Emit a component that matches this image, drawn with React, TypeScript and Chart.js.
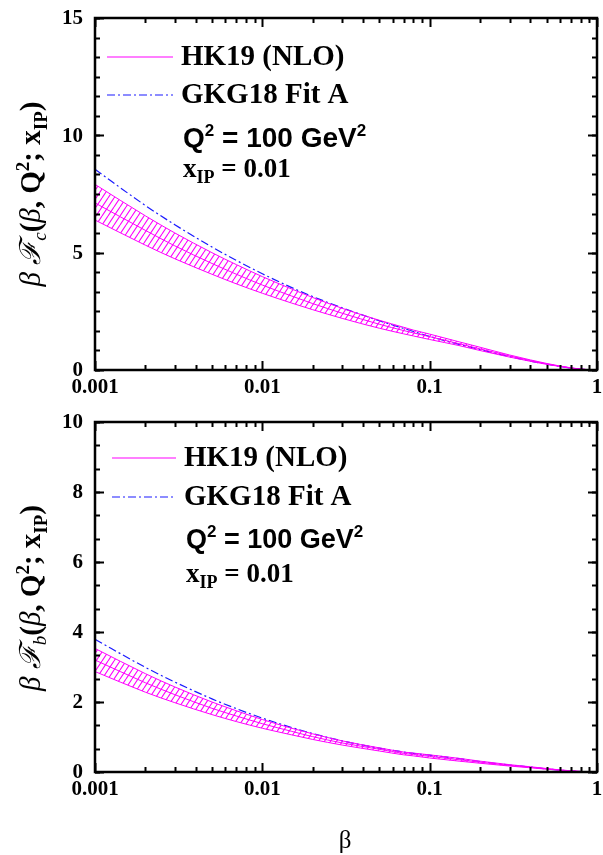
import React, { useEffect, useRef } from "react";
import { Chart, registerables } from "chart.js";
Chart.register(...registerables);

// ---------- data ----------
const betaValues = [0.001, 0.002, 0.003, 0.005, 0.007, 0.01, 0.015, 0.02, 0.03, 0.05, 0.07, 0.08, 0.1, 0.15, 0.2, 0.3, 0.4, 0.5, 0.6, 0.7, 0.8, 0.9, 1.0];

// top panel: charm
const charmUpper = [7.91, 6.57, 5.84, 5.0, 4.49, 3.98, 3.45, 3.09, 2.63, 2.12, 1.82, 1.7, 1.53, 1.2, 0.97, 0.64, 0.43, 0.28, 0.17, 0.09, 0.04, 0.012, 0];
const charmCentral = [7.12, 5.95, 5.29, 4.54, 4.08, 3.62, 3.15, 2.83, 2.42, 1.95, 1.68, 1.58, 1.42, 1.12, 0.9, 0.6, 0.4, 0.26, 0.16, 0.085, 0.038, 0.011, 0];
const charmLower = [6.39, 5.32, 4.74, 4.08, 3.67, 3.27, 2.85, 2.57, 2.2, 1.78, 1.54, 1.45, 1.3, 1.04, 0.83, 0.55, 0.37, 0.24, 0.15, 0.08, 0.035, 0.01, 0];
const charmGKG = [8.55, 7.01, 6.19, 5.24, 4.67, 4.1, 3.51, 3.13, 2.65, 2.1, 1.77, 1.64, 1.43, 1.09, 0.87, 0.57, 0.38, 0.25, 0.15, 0.08, 0.035, 0.01, 0];

// bottom panel: bottom
const bottomUpper = [3.53, 2.81, 2.43, 2.0, 1.75, 1.5, 1.25, 1.09, 0.89, 0.69, 0.57, 0.54, 0.49, 0.39, 0.31, 0.21, 0.15, 0.1, 0.06, 0.035, 0.016, 0.005, 0];
const bottomCentral = [3.2, 2.55, 2.21, 1.82, 1.6, 1.38, 1.16, 1.01, 0.83, 0.65, 0.53, 0.5, 0.445, 0.35, 0.28, 0.19, 0.135, 0.09, 0.055, 0.032, 0.015, 0.005, 0];
const bottomLower = [2.87, 2.28, 1.98, 1.64, 1.44, 1.25, 1.06, 0.93, 0.77, 0.6, 0.49, 0.46, 0.4, 0.31, 0.25, 0.17, 0.12, 0.08, 0.05, 0.028, 0.013, 0.004, 0];
const bottomGKG = [3.79, 2.99, 2.57, 2.09, 1.81, 1.54, 1.27, 1.1, 0.89, 0.68, 0.57, 0.53, 0.48, 0.38, 0.3, 0.2, 0.14, 0.09, 0.055, 0.03, 0.014, 0.004, 0];

const xTickValues = [0.001, 0.01, 0.1, 1];
const xTickLabels = ["0.001", "0.01", "0.1", "1"];
const charmYTicks = [0, 5, 10, 15];
const bottomYTicks = [0, 2, 4, 6, 8, 10];
const legendLabels = ["HK19 (NLO)", "GKG18 Fit A"];
const annotationQ = "Q";
const annotationQRest = " = 100 GeV";
const annotationX = "x";
const annotationXRest = " = 0.01";

const MAGENTA = "#FF00FF";
const BLUE = "#1a1aff";
const SERIF = "'Liberation Serif', 'Times New Roman', serif";
const SANS = "'Liberation Sans', Arial, sans-serif";

type Seg = { t: string; font: string; dy?: number };

function drawRich(ctx: CanvasRenderingContext2D, segs: Seg[], x: number, y: number) {
  let cx = x;
  for (const s of segs) {
    ctx.font = s.font;
    ctx.fillText(s.t, cx, y + (s.dy || 0));
    cx += ctx.measureText(s.t).width;
  }
  return cx - x;
}
function richWidth(ctx: CanvasRenderingContext2D, segs: Seg[]) {
  let w = 0;
  for (const s of segs) {
    ctx.font = s.font;
    w += ctx.measureText(s.t).width;
  }
  return w;
}

function makeHatch(): CanvasPattern | string {
  const c = document.createElement("canvas");
  const w = 6, h = 9;
  c.width = w; c.height = h;
  const g = c.getContext("2d");
  if (!g) return "rgba(255,0,255,0.3)";
  g.strokeStyle = MAGENTA;
  g.lineWidth = 1.1;
  g.beginPath();
  for (const off of [-w, 0, w]) {
    g.moveTo(off, h);
    g.lineTo(off + w, 0);
  }
  g.stroke();
  const p = g.createPattern(c, "repeat");
  return p || "rgba(255,0,255,0.3)";
}

type PanelCfg = {
  height: number;
  padTop: number;
  plotBottom: number;
  yMax: number;
  yTicks: number[];
  yMinorStep: number;
  upper: number[];
  central: number[];
  lower: number[];
  gkg: number[];
  sub: string;
  labelCenterY: number;
  legendY: number[];
  lineX: [number, number];
  textX: number;
  legendFont: number;
  qFont: number;
  qY: number;
  xY: number;
  showBetaTitle: boolean;
};

function Panel({ cfg }: { cfg: PanelCfg }) {
  const ref = useRef<HTMLCanvasElement | null>(null);
  useEffect(() => {
    const canvas = ref.current;
    if (!canvas) return;
    const hatch = makeHatch();
    const pts = (arr: number[]) => betaValues.map((b, i) => ({ x: b, y: arr[i] }));

    const decor = {
      id: "decor",
      afterDraw(chart: any) {
        const ctx: CanvasRenderingContext2D = chart.ctx;
        const a = chart.chartArea;
        const xs = chart.scales.x;
        const ys = chart.scales.y;
        ctx.save();
        ctx.strokeStyle = "#000";
        ctx.lineWidth = 2;
        // x ticks (log)
        for (let k = -3; k <= 0; k++) {
          for (let m = 1; m <= 9; m++) {
            const v = m * Math.pow(10, k);
            if (v > 1.0000001) break;
            const px = Math.round(xs.getPixelForValue(v)) + 0.5;
            const len = m === 1 ? 9 : 5;
            ctx.beginPath();
            ctx.moveTo(px, a.bottom);
            ctx.lineTo(px, a.bottom - len);
            ctx.moveTo(px, a.top);
            ctx.lineTo(px, a.top + len);
            ctx.stroke();
          }
        }
        // y ticks
        const nMinor = Math.round(cfg.yMax / cfg.yMinorStep);
        for (let i = 0; i <= nMinor; i++) {
          const v = i * cfg.yMinorStep;
          const py = Math.round(ys.getPixelForValue(v)) + 0.5;
          ctx.beginPath();
          ctx.moveTo(a.left, py);
          ctx.lineTo(a.left + 5, py);
          ctx.moveTo(a.right, py);
          ctx.lineTo(a.right - 5, py);
          ctx.stroke();
        }
        for (const v of cfg.yTicks) {
          const py = Math.round(ys.getPixelForValue(v)) + 0.5;
          ctx.beginPath();
          ctx.moveTo(a.left, py);
          ctx.lineTo(a.left + 9, py);
          ctx.moveTo(a.right, py);
          ctx.lineTo(a.right - 9, py);
          ctx.stroke();
        }
        // frame
        ctx.lineWidth = 2.5;
        ctx.strokeRect(a.left, a.top, a.right - a.left, a.bottom - a.top);

        // tick labels
        ctx.fillStyle = "#000";
        ctx.font = `bold 21px ${SERIF}`;
        ctx.textAlign = "right";
        ctx.textBaseline = "middle";
        for (const v of cfg.yTicks) {
          ctx.fillText(String(v), a.left - 12, ys.getPixelForValue(v) + 1);
        }
        ctx.textAlign = "center";
        ctx.textBaseline = "top";
        xTickValues.forEach((v, i) => {
          ctx.fillText(xTickLabels[i], xs.getPixelForValue(v), a.bottom + 7);
        });

        // legend
        ctx.textBaseline = "middle";
        ctx.textAlign = "left";
        ctx.lineWidth = 1.2;
        ctx.strokeStyle = MAGENTA;
        ctx.beginPath();
        ctx.moveTo(cfg.lineX[0], cfg.legendY[0]);
        ctx.lineTo(cfg.lineX[1], cfg.legendY[0]);
        ctx.stroke();
        ctx.strokeStyle = BLUE;
        ctx.setLineDash([8, 3, 2, 3]);
        ctx.beginPath();
        ctx.moveTo(cfg.lineX[0], cfg.legendY[1]);
        ctx.lineTo(cfg.lineX[1], cfg.legendY[1]);
        ctx.stroke();
        ctx.setLineDash([]);
        ctx.font = `bold ${cfg.legendFont}px ${SERIF}`;
        ctx.fillText(legendLabels[0], cfg.textX, cfg.legendY[0] + 1);
        ctx.fillText(legendLabels[1], cfg.textX, cfg.legendY[1] + 1);

        // annotations
        ctx.textBaseline = "alphabetic";
        const qf = cfg.qFont, qs = Math.round(cfg.qFont * 0.62);
        drawRich(ctx, [
          { t: annotationQ, font: `bold ${qf}px ${SANS}` },
          { t: "2", font: `bold ${qs}px ${SANS}`, dy: -Math.round(qf * 0.4) },
          { t: annotationQRest, font: `bold ${qf}px ${SANS}` },
          { t: "2", font: `bold ${qs}px ${SANS}`, dy: -Math.round(qf * 0.4) },
        ], cfg.textX + 2, cfg.qY + 10);
        const xf = 27, xsz = 18;
        drawRich(ctx, [
          { t: annotationX, font: `bold ${xf}px ${SERIF}` },
          { t: "IP", font: `bold ${xsz}px ${SERIF}`, dy: 6 },
          { t: annotationXRest, font: `bold ${xf}px ${SERIF}` },
        ], cfg.textX + 2, cfg.xY + 7);

        // y title (rotated)
        const f = 29, fs = 19;
        const segs: Seg[] = [
          { t: "\u03B2 ", font: `italic ${f}px ${SERIF}` },
          { t: "\u2131", font: `italic ${f}px ${SERIF}` },
          { t: cfg.sub, font: `italic ${fs}px ${SERIF}`, dy: 6 },
          { t: "(", font: `bold ${f}px ${SERIF}` },
          { t: "\u03B2", font: `italic ${f}px ${SERIF}` },
          { t: ", Q", font: `bold ${f}px ${SERIF}` },
          { t: "2", font: `bold ${fs}px ${SERIF}`, dy: -11 },
          { t: "; x", font: `bold ${f}px ${SERIF}` },
          { t: "IP", font: `bold ${fs}px ${SERIF}`, dy: 7 },
          { t: ")", font: `bold ${f}px ${SERIF}` },
        ];
        const w = richWidth(ctx, segs);
        ctx.save();
        ctx.translate(40, cfg.labelCenterY);
        ctx.rotate(-Math.PI / 2);
        drawRich(ctx, segs, -w / 2, 0);
        ctx.restore();

        if (cfg.showBetaTitle) {
          ctx.font = `25px ${SERIF}`;
          ctx.textAlign = "center";
          ctx.textBaseline = "middle";
          ctx.fillText("\u03B2", 345, 441);
        }
        ctx.restore();
      },
    };

    const chart = new Chart(canvas, {
      type: "line",
      data: {
        datasets: [
          {
            label: "upper",
            data: pts(cfg.upper),
            borderColor: MAGENTA,
            borderWidth: 1,
            backgroundColor: hatch as any,
            fill: "+2",
            pointRadius: 0,
            cubicInterpolationMode: "monotone",
          },
          {
            label: "central",
            data: pts(cfg.central),
            borderColor: MAGENTA,
            borderWidth: 1,
            fill: false,
            pointRadius: 0,
            cubicInterpolationMode: "monotone",
          },
          {
            label: "lower",
            data: pts(cfg.lower),
            borderColor: MAGENTA,
            borderWidth: 1,
            fill: false,
            pointRadius: 0,
            cubicInterpolationMode: "monotone",
          },
          {
            label: "GKG18 Fit A",
            data: pts(cfg.gkg),
            borderColor: BLUE,
            borderWidth: 1.2,
            borderDash: [8, 3, 2, 3],
            fill: false,
            pointRadius: 0,
            cubicInterpolationMode: "monotone",
          },
        ],
      },
      options: {
        animation: false,
        responsive: false,
        maintainAspectRatio: false,
        layout: {
          autoPadding: false,
          padding: { top: cfg.padTop, right: 6, left: 95, bottom: cfg.height - cfg.plotBottom },
        },
        plugins: { legend: { display: false }, tooltip: { enabled: false } },
        scales: {
          x: { type: "logarithmic", min: 0.001, max: 1, display: false },
          y: { type: "linear", min: 0, max: cfg.yMax, display: false },
        },
      },
      plugins: [decor],
    } as any);
    return () => chart.destroy();
  }, [cfg]);
  return <canvas ref={ref} width={603} height={cfg.height} style={{ display: "block", width: 603, height: cfg.height }} />;
}

const topCfg: PanelCfg = {
  height: 400,
  padTop: 18,
  plotBottom: 370,
  yMax: 15,
  yTicks: charmYTicks,
  yMinorStep: 5 / 6,
  upper: charmUpper,
  central: charmCentral,
  lower: charmLower,
  gkg: charmGKG,
  sub: "c",
  labelCenterY: 194,
  legendY: [57, 95],
  lineX: [107, 173],
  textX: 181,
  legendFont: 29,
  qFont: 28,
  qY: 137,
  xY: 170,
  showBetaTitle: false,
};

const bottomCfg: PanelCfg = {
  height: 455,
  padTop: 22,
  plotBottom: 372,
  yMax: 10,
  yTicks: bottomYTicks,
  yMinorStep: 2 / 3,
  upper: bottomUpper,
  central: bottomCentral,
  lower: bottomLower,
  gkg: bottomGKG,
  sub: "b",
  labelCenterY: 198,
  legendY: [58, 97],
  lineX: [112, 176],
  textX: 184,
  legendFont: 29,
  qFont: 27,
  qY: 138,
  xY: 175,
  showBetaTitle: true,
};

export default function App() {
  return (
    <div style={{ position: "absolute", left: 0, top: 0, width: 603, height: 855, background: "#fff" }}>
      <Panel cfg={topCfg} />
      <Panel cfg={bottomCfg} />
    </div>
  );
}
